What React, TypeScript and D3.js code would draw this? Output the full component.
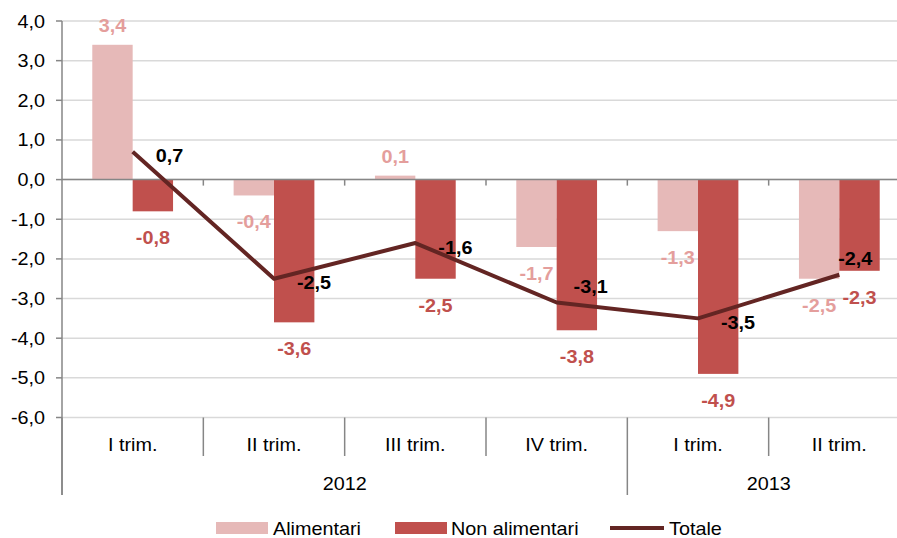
import * as d3 from "d3";

const categories = ["I trim.", "II trim.", "III trim.", "IV trim.", "I trim.", "II trim."];
const yearLabels = ["2012", "2013"];
const yearSpans = [4, 2];
const alimentari = [3.4, -0.4, 0.1, -1.7, -1.3, -2.5];
const nonAlimentari = [-0.8, -3.6, -2.5, -3.8, -4.9, -2.3];
const totale = [0.7, -2.5, -1.6, -3.1, -3.5, -2.4];
const yTicks = [-6, -5, -4, -3, -2, -1, 0, 1, 2, 3, 4];

const W = 897;
const H = 538;
const FONT = "'Liberation Sans', Arial, sans-serif";
const cLight = "#e6b9b8";
const cLightLbl = "#e49e9c";
const cDark = "#c0504d";
const cLine = "#632523";
const axisGray = "#868686";
const gridGray = "#d9d9d9";

// excel-ish labels: 3,4 / -0,8
const fmt = (v: number) => v.toFixed(1).replace(".", ",");

// text slightly widened like the original export
function Txt(props: { x: number; y: number; anchor?: string; bold?: boolean; fill?: string; size?: number; children: any }) {
  const { x, y, anchor = "start", bold = false, fill = "#000", size = 18, children } = props;
  return (
    <text
      transform={`translate(${x},${y}) scale(1.1,1)`}
      textAnchor={anchor}
      fontFamily={FONT}
      fontSize={size}
      fontWeight={bold ? "bold" : "normal"}
      fill={fill}
    >
      {children}
    </text>
  );
}

export default function App() {
  const left = 62;
  const right = 910;
  const x = d3.scaleBand<number>().domain(d3.range(categories.length)).range([left, right]).padding(0);
  const y = d3.scaleLinear().domain([-6, 4]).range([417.5, 21]);
  const bw = x.bandwidth();
  const barW = bw / 3.5;
  const cx = (i: number) => (x(i) as number) + bw / 2;
  const y0 = y(0);

  const line = d3
    .line<number>()
    .x((d, i) => cx(i))
    .y((d) => y(d));

  // Totale labels: most sit right of the point, two were moved above by hand
  const totLabelAbove = totale.map((d, i) => i === 3 || i === 5);
  const totAboveDx = (i: number) => (i === 3 ? 34 : 16);

  const bounds = d3.range(categories.length + 1).map((i) => left + i * bw);
  let acc = 0;
  const yearPos = yearSpans.map((s) => {
    const a = acc;
    acc += s;
    return [a, acc];
  });

  const barLabelY = (v: number) => (v >= 0 ? y(v) - 13 : y(v) + 33);

  return (
    <svg width={W} height={H} style={{ position: "absolute", left: 0, top: 0, background: "#fff" }}>
      {/* grid */}
      {yTicks.map((t) => (
        <line key={"g" + t} x1={left} x2={right} y1={y(t)} y2={y(t)} stroke={gridGray} strokeWidth={1.5} />
      ))}
      {/* y axis */}
      <line x1={left} x2={left} y1={y(4)} y2={495} stroke={axisGray} strokeWidth={1.5} />
      {yTicks.map((t) => (
        <g key={"t" + t}>
          <line x1={left - 6} x2={left} y1={y(t)} y2={y(t)} stroke={axisGray} strokeWidth={1.5} />
          <Txt x={left - 17} y={y(t) + 6.5} anchor="end">
            {fmt(t)}
          </Txt>
        </g>
      ))}

      {/* bars */}
      {alimentari.map((v, i) => (
        <rect
          key={"a" + i}
          x={cx(i) - barW}
          y={Math.min(y(v), y0)}
          width={barW}
          height={Math.abs(y(v) - y0)}
          fill={cLight}
        />
      ))}
      {nonAlimentari.map((v, i) => (
        <rect
          key={"n" + i}
          x={cx(i)}
          y={Math.min(y(v), y0)}
          width={barW}
          height={Math.abs(y(v) - y0)}
          fill={cDark}
        />
      ))}

      {/* zero axis with category ticks */}
      <line x1={left} x2={right} y1={y0} y2={y0} stroke={axisGray} strokeWidth={1.5} />
      {bounds.slice(1).map((b, i) => (
        <line key={"zt" + i} x1={b} x2={b} y1={y0} y2={y0 + 6} stroke={axisGray} strokeWidth={1.5} />
      ))}

      {/* category separators under the plot */}
      {bounds.map((b, i) => {
        const isYear = yearPos.some((p) => p[0] === i || p[1] === i);
        return (
          <line key={"s" + i} x1={b} x2={b} y1={y(-6)} y2={isYear ? 495 : 456} stroke={axisGray} strokeWidth={1.5} />
        );
      })}
      {categories.map((c, i) => (
        <Txt key={"c" + i} x={cx(i)} y={451} anchor="middle">
          {c}
        </Txt>
      ))}
      {yearLabels.map((yl, i) => (
        <Txt key={"y" + i} x={(bounds[yearPos[i][0]] + bounds[yearPos[i][1]]) / 2} y={490} anchor="middle">
          {yl}
        </Txt>
      ))}

      {/* totale line */}
      <path d={line(totale) || ""} fill="none" stroke={cLine} strokeWidth={4} strokeLinejoin="round" />

      {/* labels */}
      {alimentari.map((v, i) => (
        <Txt key={"al" + i} x={cx(i) - barW / 2} y={barLabelY(v)} anchor="middle" bold fill={cLightLbl}>
          {fmt(v)}
        </Txt>
      ))}
      {nonAlimentari.map((v, i) => (
        <Txt key={"nl" + i} x={cx(i) + barW / 2} y={barLabelY(v)} anchor="middle" bold fill={cDark}>
          {fmt(v)}
        </Txt>
      ))}
      {totale.map((v, i) =>
        totLabelAbove[i] ? (
          <Txt key={"tl" + i} x={cx(i) + totAboveDx(i)} y={y(v) - 10} anchor="middle" bold>
            {fmt(v)}
          </Txt>
        ) : (
          <Txt key={"tl" + i} x={cx(i) + 23} y={y(v) + 10.5} bold>
            {fmt(v)}
          </Txt>
        )
      )}

      {/* legend */}
      <rect x={216} y={522} width={52} height={12} fill={cLight} />
      <Txt x={273} y={535}>Alimentari</Txt>
      <rect x={395} y={522} width={52} height={12} fill={cDark} />
      <Txt x={451} y={535}>Non alimentari</Txt>
      <line x1={610} x2={664} y1={528} y2={528} stroke={cLine} strokeWidth={4} />
      <Txt x={669} y={535}>Totale</Txt>
    </svg>
  );
}
